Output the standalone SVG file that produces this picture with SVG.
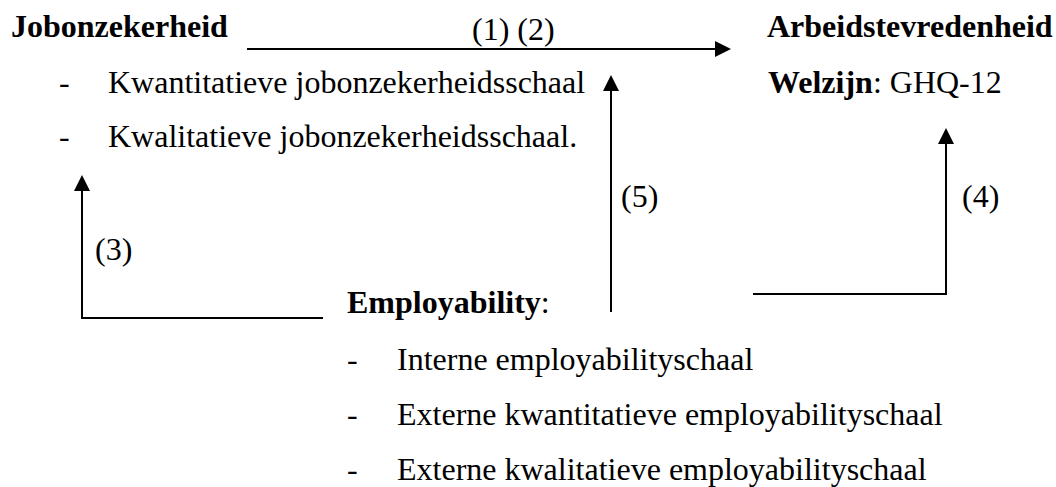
<svg xmlns="http://www.w3.org/2000/svg" width="1056" height="487" viewBox="0 0 1056 487">
  <style>
    text { font-family: "Liberation Serif", "Times New Roman", serif; font-size: 32px; fill: #000; }
    .b { font-weight: bold; }
    .conn { fill: none; stroke: #000; stroke-width: 2; }
  </style>
  <defs>
    <marker id="arrow" markerUnits="userSpaceOnUse" markerWidth="16" markerHeight="16" refX="12" refY="8" orient="auto">
      <path d="M0,0 L16,8 L0,16 Z" fill="#000"/>
    </marker>
  </defs>
  <rect width="1056" height="487" fill="#fff"/>

  <g id="jobonzekerheid">
    <text class="b" x="11" y="37">Jobonzekerheid</text>
    <text x="59" y="93">-</text>
    <text x="108" y="93">Kwantitatieve jobonzekerheidsschaal</text>
    <text x="59" y="147">-</text>
    <text x="108" y="147">Kwalitatieve jobonzekerheidsschaal.</text>
  </g>

  <g id="arbeidstevredenheid">
    <text class="b" x="767" y="37">Arbeidstevredenheid</text>
    <text x="768" y="93"><tspan class="b">Welzijn</tspan>: GHQ-12</text>
  </g>

  <g id="employability">
    <text x="347" y="313"><tspan class="b">Employability</tspan>:</text>
    <text x="347" y="370">-</text>
    <text x="397" y="370">Interne employabilityschaal</text>
    <text x="347" y="425">-</text>
    <text x="397" y="425">Externe kwantitatieve employabilityschaal</text>
    <text x="347" y="480">-</text>
    <text x="397" y="480">Externe kwalitatieve employabilityschaal</text>
  </g>

  <g id="connectors">
    <path class="conn" d="M247,49 H727" marker-end="url(#arrow)"/>
    <path class="conn" d="M323,318 H82 V179" marker-end="url(#arrow)"/>
    <path class="conn" d="M611,312 V79" marker-end="url(#arrow)"/>
    <path class="conn" d="M753,294 H946 V132" marker-end="url(#arrow)"/>
    <text x="472" y="40">(1) (2)</text>
    <text x="95" y="260">(3)</text>
    <text x="962" y="207">(4)</text>
    <text x="621" y="207">(5)</text>
  </g>
</svg>
